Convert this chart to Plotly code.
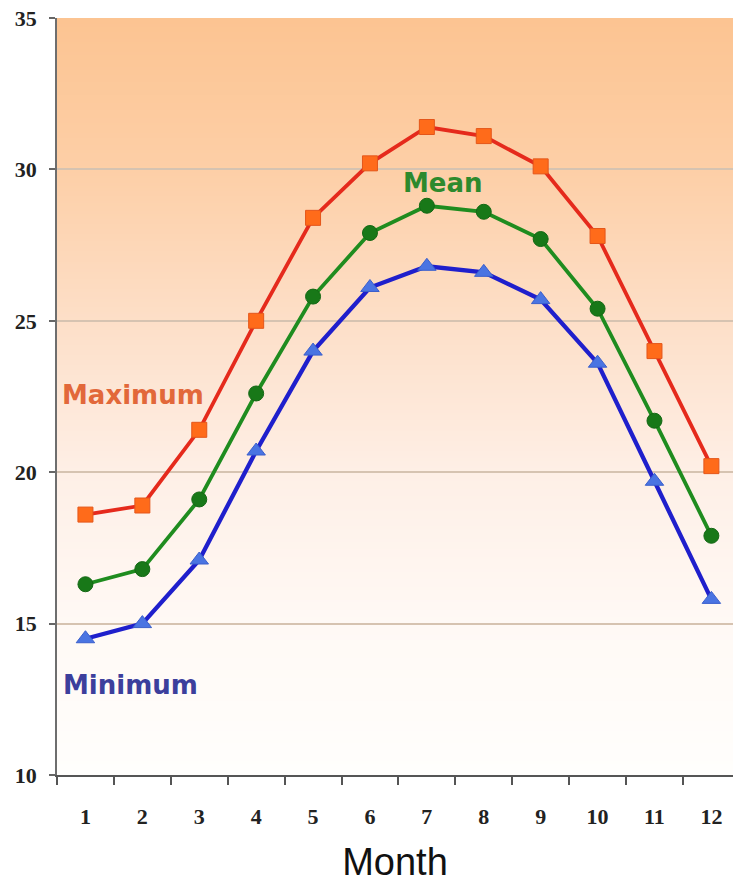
import base64
import struct
import zlib

import plotly.graph_objects as go

# ---------------- data ----------------
months = [1, 2, 3, 4, 5, 6, 7, 8, 9, 10, 11, 12]
maximum = [18.6, 18.9, 21.4, 25.0, 28.4, 30.2, 31.4, 31.1, 30.1, 27.8, 24.0, 20.2]
mean = [16.3, 16.8, 19.1, 22.6, 25.8, 27.9, 28.8, 28.6, 27.7, 25.4, 21.7, 17.9]
minimum = [14.5, 15.0, 17.1, 20.7, 24.0, 26.1, 26.8, 26.6, 25.7, 23.6, 19.7, 15.8]
y_ticks = [10, 15, 20, 25, 30, 35]
x_title = "Month"
labels = {"Maximum": "Maximum", "Mean": "Mean", "Minimum": "Minimum"}

# ---------------- background gradient (style) ----------------
grad_stops = [  # (fraction from top, rgb)
    (0.00, (252, 196, 146)),
    (0.20, (253, 207, 167)),
    (0.40, (253, 223, 200)),
    (0.60, (254, 239, 230)),
    (0.80, (255, 249, 245)),
    (1.00, (255, 254, 252)),
]


def gradient_png(stops, h=300, w=2):
    def col(t):
        for (t0, c0), (t1, c1) in zip(stops[:-1], stops[1:]):
            if t0 <= t <= t1:
                f = (t - t0) / (t1 - t0) if t1 > t0 else 0
                return tuple(int(round(a + (b - a) * f)) for a, b in zip(c0, c1))
        return stops[-1][1]

    raw = b""
    for i in range(h):
        c = col(i / (h - 1))
        raw += b"\x00" + bytes(c) * w

    def chunk(tag, data):
        return (struct.pack(">I", len(data)) + tag + data +
                struct.pack(">I", zlib.crc32(tag + data) & 0xFFFFFFFF))

    png = b"\x89PNG\r\n\x1a\n"
    png += chunk(b"IHDR", struct.pack(">IIBBBBB", w, h, 8, 2, 0, 0, 0))
    png += chunk(b"IDAT", zlib.compress(raw, 9))
    png += chunk(b"IEND", b"")
    return "data:image/png;base64," + base64.b64encode(png).decode()


fig = go.Figure()

fig.add_trace(go.Scatter(
    x=months, y=maximum, mode="lines+markers", name="Maximum",
    line=dict(color="#E52A1C", width=3.8),
    marker=dict(symbol="square", size=15, color="#FF6B1A",
                line=dict(color="#E4561A", width=1)),
))
fig.add_trace(go.Scatter(
    x=months, y=mean, mode="lines+markers", name="Mean",
    line=dict(color="#1F8C1F", width=3.8),
    marker=dict(symbol="circle", size=15, color="#187818",
                line=dict(color="#146814", width=1)),
))
fig.add_trace(go.Scatter(
    x=months, y=minimum, mode="lines+markers", name="Minimum",
    line=dict(color="#1F1FCC", width=4.3),
    marker=dict(symbol="triangle-up", size=16, color="#4A74E2",
                line=dict(color="#3A5FCC", width=1)),
))

fig.add_annotation(x=1.84, y=22.55, text=labels["Maximum"], showarrow=False,
                   font=dict(family="DejaVu Sans", size=26, color="#E2683A", weight="bold"))
fig.add_annotation(x=7.28, y=29.55, text=labels["Mean"], showarrow=False,
                   font=dict(family="DejaVu Sans", size=26, color="#2D8A2D", weight="bold"))
fig.add_annotation(x=1.8, y=12.98, text=labels["Minimum"], showarrow=False,
                   font=dict(family="DejaVu Sans", size=26, color="#3C3F9C", weight="bold"))

fig.add_layout_image(dict(
    source=gradient_png(grad_stops), xref="x domain", yref="y domain",
    x=0, y=1, sizex=1, sizey=1, xanchor="left", yanchor="top",
    sizing="stretch", layer="below",
))

fig.update_layout(
    width=733, height=883, autosize=False,
    margin=dict(l=57, r=0, t=18, b=108),
    paper_bgcolor="white", plot_bgcolor="rgba(0,0,0,0)",
    showlegend=False,
)

fig.update_xaxes(
    range=[0.5, 12.38],
    tickmode="array", tickvals=months, ticktext=[str(m) for m in months],
    ticks="outside", ticklen=21, tickcolor="rgba(0,0,0,0)",
    tickfont=dict(family="Liberation Serif", size=22, color="#222222", weight="bold"),
    minor=dict(tickmode="array", tickvals=[m - 0.5 for m in months],
               ticks="outside", ticklen=8, tickwidth=1.5, tickcolor="#555555",
               showgrid=False),
    showgrid=False, zeroline=False,
    showline=True, linecolor="#555555", linewidth=2,
    title=dict(text=x_title, standoff=21,
               font=dict(family="Liberation Sans", size=38, color="#111111")),
)

fig.update_yaxes(
    range=[10, 35], tickmode="array", tickvals=y_ticks,
    ticks="outside", ticklen=6, tickwidth=1.5, tickcolor="#666666",
    ticklabelstandoff=8,
    tickfont=dict(family="Liberation Serif", size=22, color="#222222", weight="bold"),
    showgrid=True, gridcolor="#D6C3B1", gridwidth=1.5,
    zeroline=False, showline=True, linecolor="#6E6E6E", linewidth=1.5,
)

fig.write_html(
    "out.html",
    config={"displayModeBar": False},
    post_script="document.body.style.margin='0';document.body.style.overflow='hidden';",
)
